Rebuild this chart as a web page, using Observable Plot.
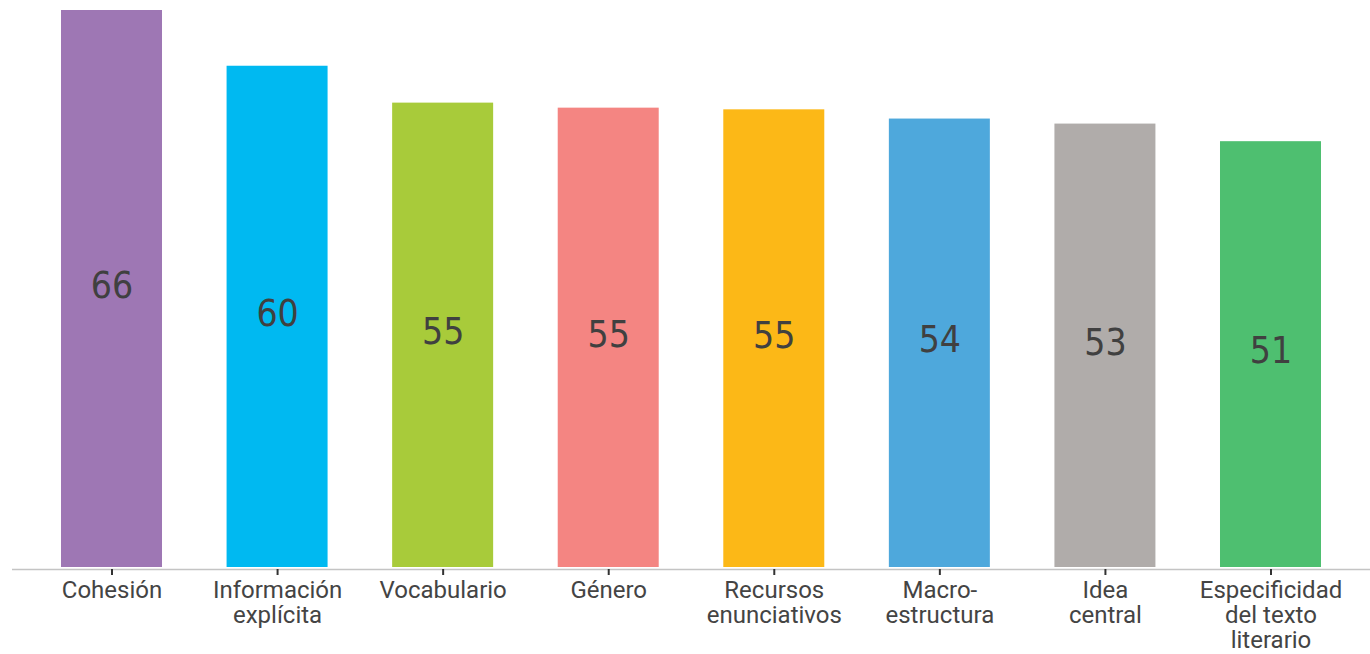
<!DOCTYPE html>
<html>
<head>
<meta charset="utf-8">
<script src="https://cdn.jsdelivr.net/npm/d3@7"></script>
<script src="https://cdn.jsdelivr.net/npm/@observablehq/plot@0.6"></script>
<style>
  html, body { margin: 0; padding: 0; background: #fff; }
  #chart { width: 1370px; height: 654px; }
</style>
</head>
<body>
<div id="chart"></div>
<script>
const categories = ["Cohesión", "Información explícita", "Vocabulario", "Género", "Recursos enunciativos", "Macro-estructura", "Idea central", "Especificidad del texto literario"];
const tickLabels = ["Cohesión", "Información\nexplícita", "Vocabulario", "Género", "Recursos\nenunciativos", "Macro-\nestructura", "Idea\ncentral", "Especificidad\ndel texto\nliterario"];
const values = [66.45, 59.8, 55.4, 54.8, 54.6, 53.5, 52.9, 50.8];
const colors = ["#9e77b4", "#00b9f1", "#a8cb3a", "#f48582", "#fcb817", "#4ea8dc", "#b0acaa", "#4ebf70"];

const data = categories.map((c, i) => ({cat: c, value: values[i], label: String(Math.round(values[i])), color: colors[i]}));
const tickMap = new Map(categories.map((c, i) => [c, tickLabels[i]]));

const chart = Plot.plot({
  width: 1370,
  height: 654,
  marginLeft: 12,
  marginRight: 0,
  marginTop: 10,
  marginBottom: 87,
  style: {background: "#fff"},
  x: {domain: categories, paddingInner: 0.39, paddingOuter: 0.296, round: false, axis: null, label: null},
  y: {domain: [0, values[0]], axis: null, label: null},
  marks: [
    Plot.barY(data, {x: "cat", y: "value", fill: "color"}),
    Plot.ruleY([0], {stroke: "#c4c4c4", strokeWidth: 1.5, dy: 2}),
    Plot.axisX({
      tickSize: 6,
      tickPadding: 4,
      stroke: "#333",
      strokeWidth: 2,
      fill: "#444",
      fontSize: 24,
      fontFamily: "Roboto",
      lineHeight: 1.06,
      dy: 2,
      label: null,
      tickFormat: d => tickMap.get(d)
    }),
    Plot.text(data, {
      x: "cat",
      y: d => d.value / 2,
      text: "label",
      fill: "#404040",
      fontSize: 37,
      fontFamily: "'Liberation Sans Narrow', 'DejaVu Sans Condensed', sans-serif",
      dy: -3
    })
  ]
});
document.getElementById("chart").appendChild(chart);
</script>
</body>
</html>
